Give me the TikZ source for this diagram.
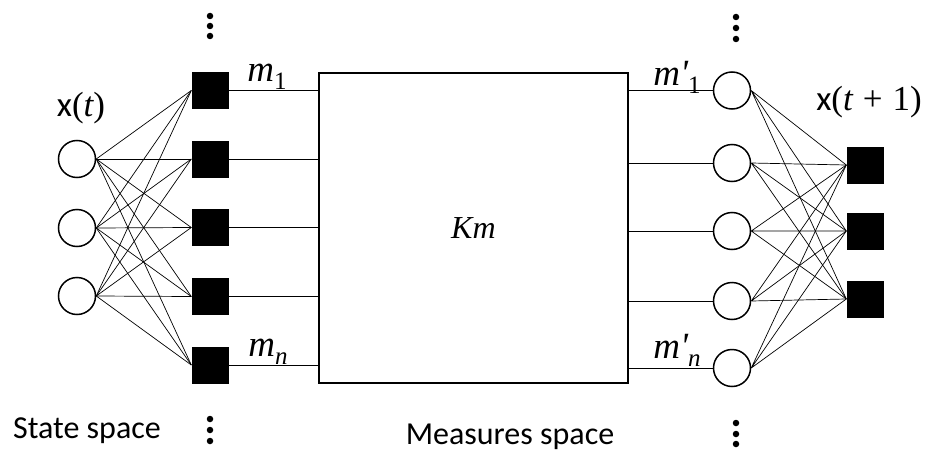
\documentclass[tikz,border=0pt]{standalone}
\usepackage{fontspec}
\setmainfont{Carlito}
\newfontfamily\mfont{Liberation Serif}
\newcommand{\mv}[1]{{\mfont\itshape #1}}
\newcommand{\msub}[1]{\raisebox{-8pt}{\fontsize{25}{25}\selectfont\mfont #1}}
\begin{document}
\begin{tikzpicture}[x=1pt,y=-1pt,
  thinline/.style={line width=0.7pt},
  circnode/.style={circle,draw,line width=1.5pt,minimum size=37pt,inner sep=0pt,fill=white},
  sqnode/.style={rectangle,fill=black,minimum size=37pt,inner sep=0pt},
  dotmark/.style={circle,fill=black,minimum size=6.5pt,inner sep=0pt},
  lab/.style={font=\fontsize{35}{38}\selectfont,inner sep=0pt},
  mlab/.style={font=\fontsize{37}{40}\selectfont,inner sep=0pt},
  caption/.style={font=\fontsize{32}{36}\selectfont,inner sep=0pt}]
\useasboundingbox (0,0) rectangle (931,452);
% measure box
\node[draw,line width=1.8pt,minimum width=309pt,minimum height=310pt,inner sep=0pt,anchor=north west,
  label={[font=\fontsize{32}{34}\selectfont]center:\mv{Km}}] (K) at (318,72) {};
% left state circles
\foreach \i/\y in {1/159,2/228,3/296} \node[circnode] (c\i) at (77,\y) {};
% left measure squares
\foreach \i/\y in {1/90.5,2/159,3/227.5,4/296.5,5/365} \node[sqnode] (s\i) at (210,\y) {};
% right measure circles
\foreach \i/\y in {1/90.5,2/163,3/231,4/301,5/368} \node[circnode] (r\i) at (732,\y) {};
% right state squares
\foreach \i/\y in {1/165,2/231,3/299} \node[sqnode] (q\i) at (865,\y) {};
% connections
\foreach \i in {1,2,3} \foreach \j in {1,...,5} \draw[thinline] (c\i.east) -- (s\j.west);
\foreach \j in {1,...,5} \draw[thinline] (r\j.east) \foreach \i in {1,2,3} {-- (q\i.west) (r\j.east)};
\foreach \j in {1,...,5} \draw[thinline] (s\j.east) -- (s\j.east -| K.west);
\foreach \j in {1,...,5} \draw[thinline] (r\j.west -| K.east) -- (r\j.west);
% dots
\foreach \n/\x/\y in {a/210/16, b/210/26, c/210/36, d/210/419, e/210/430, f/210/441,
                      g/736/17, h/736/28, i/736/39, j/736/423, k/736/434, l/736/444}
  \node[dotmark] (dot\n) at (\x,\y) {};
% labels
\node[lab] (xt) at (81,108) {x{\mfont(}\mv{t}{\mfont)}};
\node[lab] (xt1) at (869,102) {x{\mfont(}\mv{t}{\mfont\hspace{10pt}+\hspace{10pt}1)}};
\node[mlab] (m1) at (267,77) {\mv{m}\msub{1}};
\node[mlab] (mn) at (268,352) {\mv{m}\msub{\itshape n}};
\node[mlab] (mp1) at (677,77) {\mv{m}{\mfont\itshape '}\msub{1}};
\node[mlab] (mpn) at (677,350) {\mv{m}{\mfont\itshape '}\msub{\itshape n}};
\node[caption] (ss) at (87,431) {State space};
\node[caption] (ms) at (510,437) {Measures space};
\end{tikzpicture}
\end{document}
